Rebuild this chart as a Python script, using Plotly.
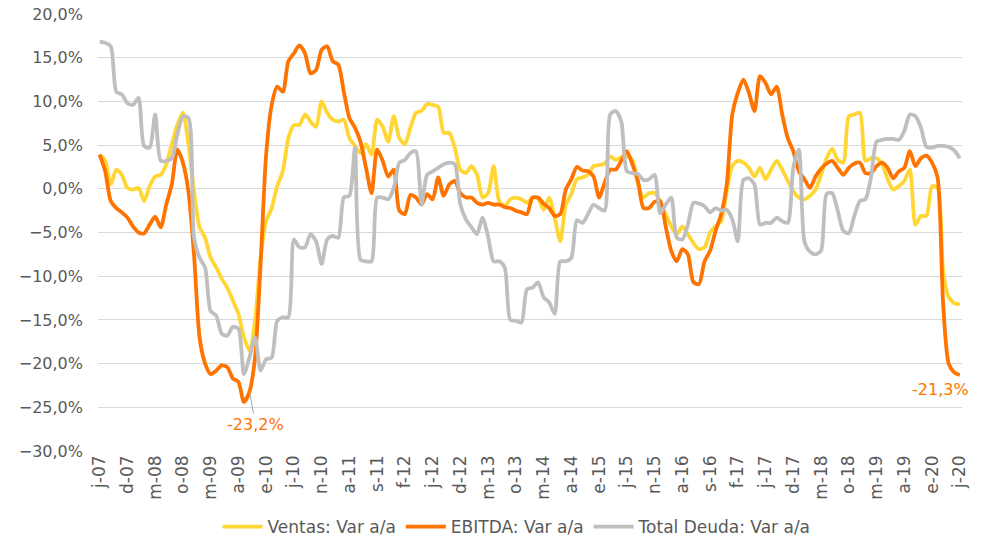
import plotly.graph_objects as go

# Monthly, jul-07 .. jun-20 (156 months), values in %
ventas = [3.9, 3.2, 0.5, 2.2, 1.6, 0.1, -0.1, 0.1, -1.4, 0.3,
          1.4, 1.6, 2.8, 5.1, 7.3, 8.7, 5.1, -0.3, -4.4, -5.6,
          -7.9, -9.0, -10.3, -11.3, -12.8, -14.3, -17.0, -18.5, -15.1, -7.9,
          -3.7, -2.2, 0.3, 2.0, 5.8, 7.3, 7.3, 8.5, 7.7, 7.1,
          10.0, 8.7, 7.9, 7.7, 7.9, 5.8, 4.9, 4.1, 5.1, 3.9,
          7.9, 7.1, 5.4, 8.3, 5.8, 5.1, 7.0, 8.7, 8.9, 9.7,
          9.6, 9.4, 6.4, 6.4, 4.7, 2.2, 1.8, 2.6, 1.6, -1.0,
          -0.5, 2.6, -1.4, -2.0, -1.2, -1.0, -1.2, -1.6, -1.0, -1.1,
          -2.4, -1.0, -3.3, -6.0, -1.8, -0.6, 1.1, 1.3, 1.6, 2.6,
          2.7, 2.9, 3.7, 3.3, 3.6, 3.7, 3.3, 0.5, -1.0, -0.5,
          -0.5, -1.4, -2.9, -4.3, -5.2, -4.3, -5.2, -6.2, -6.9, -6.7,
          -5.0, -4.3, -3.7, -0.3, 2.6, 3.2, 3.0, 2.4, 1.4, 2.4,
          1.1, 2.2, 3.2, 2.2, 0.9, -0.3, -1.0, -1.2, -0.8, -0.1,
          1.6, 3.5, 4.6, 3.3, 3.0, 8.3, 8.5, 8.7, 3.2, 3.5,
          3.5, 2.8, 1.1, -0.1, 0.3, 0.9, 2.2, -4.1, -3.1, -3.1,
          0.3, 0.1, -9.4, -12.4, -13.1, -13.2]

ebitda = [3.9, 2.0, -1.4, -2.2, -2.7, -3.3, -4.3, -5.0, -5.1, -4.1,
          -3.2, -4.4, -1.8, 0.5, 4.5, 3.0, -0.3, -7.5, -17.0, -20.0,
          -21.2, -20.8, -20.2, -20.4, -21.7, -22.1, -24.4, -23.2, -19.3, -8.6,
          3.9, 9.6, 11.7, 11.1, 14.6, 15.5, 16.4, 15.5, 13.2, 13.6,
          15.9, 16.3, 14.6, 14.2, 11.1, 8.1, 7.0, 5.4, 2.4, -0.5,
          4.5, 3.2, 1.4, 2.2, -2.5, -2.9, -0.7, -1.0, -1.8, -0.6,
          -1.2, 1.3, -0.8, 0.5, 0.9, -0.5, -1.0, -1.0, -1.6, -1.8,
          -1.6, -1.8, -1.8, -2.1, -2.2, -2.5, -2.7, -2.9, -1.0, -1.0,
          -1.7, -2.2, -3.1, -2.9, -0.1, 1.1, 2.5, 2.1, 2.0, 1.4,
          -1.0, 0.7, 2.2, 2.2, 3.2, 4.3, 2.8, 0.9, -2.2, -2.2,
          -1.5, -1.4, -4.3, -7.1, -8.3, -6.9, -7.5, -10.7, -10.9, -8.3,
          -7.1, -4.8, -2.9, 0.5, 8.5, 11.0, 12.5, 11.0, 8.9, 12.9,
          12.1, 10.8, 11.7, 8.5, 5.8, 4.3, 2.0, 1.1, 0.1, 1.4,
          2.3, 2.9, 3.2, 2.4, 1.6, 2.4, 2.9, 3.0, 1.8, 1.8,
          2.6, 3.0, 2.4, 1.2, 2.0, 2.4, 4.3, 2.6, 3.5, 3.8,
          3.0, 1.3, -13.2, -20.0, -21.0, -21.3]

deuda = [16.8, 16.7, 16.3, 11.1, 10.8, 9.8, 9.6, 10.4, 4.9, 4.7,
         8.5, 3.2, 3.2, 3.5, 6.2, 8.3, 8.1, -5.6, -7.9, -9.0,
         -14.0, -14.5, -16.6, -16.8, -15.8, -16.0, -21.2, -19.3, -17.0, -20.8,
         -19.5, -19.3, -15.1, -14.7, -14.7, -5.8, -6.7, -6.7, -5.2, -6.0,
         -8.6, -5.8, -5.4, -5.6, -1.0, -0.8, 4.7, -8.1, -8.3, -8.3,
         -1.0, -1.0, -1.2, 0.1, 3.0, 3.3, 4.1, 4.3, -1.8, 1.6,
         2.0, 2.4, 2.8, 3.0, 2.8, -1.8, -3.5, -4.4, -5.2, -3.3,
         -5.5, -8.3, -8.3, -9.0, -15.0, -15.1, -15.3, -11.5, -11.3, -10.7,
         -12.4, -13.0, -14.3, -8.3, -8.3, -7.9, -3.6, -3.9, -2.9, -1.8,
         -2.2, -2.5, 8.5, 8.9, 7.7, 2.0, 1.8, 1.7, 1.0, 1.1,
         1.6, -2.8, -1.8, -1.0, -5.6, -5.8, -4.1, -1.6, -1.7, -2.0,
         -2.7, -2.2, -2.5, -2.4, -3.5, -6.0, 1.0, 1.2, 0.5, -4.1,
         -3.9, -3.9, -3.3, -3.7, -3.9, 2.4, 4.5, -6.0, -7.2, -7.5,
         -7.1, -0.6, -0.5, -2.5, -4.8, -5.1, -3.1, -1.4, -1.2, 1.3,
         5.4, 5.6, 5.7, 5.7, 5.6, 6.6, 8.5, 8.3, 7.0, 4.8,
         4.7, 4.9, 4.9, 4.8, 4.4, 3.5]

tick_labels = ["j-07", "d-07", "m-08", "o-08", "m-09", "a-09", "e-10", "j-10",
               "n-10", "a-11", "s-11", "f-12", "j-12", "d-12", "m-13", "o-13",
               "m-14", "a-14", "e-15", "j-15", "n-15", "a-16", "s-16", "f-17",
               "j-17", "d-17", "m-18", "o-18", "m-19", "a-19", "e-20", "j-20"]
tick_step = 5

series_names = ["Ventas: Var a/a", "EBITDA: Var a/a", "Total Deuda: Var a/a"]
series_colors = ["#FFD633", "#FF7300", "#BFBFBF"]

x = list(range(len(ventas)))
tick_vals = [i * tick_step for i in range(len(tick_labels))]

fig = go.Figure()
for name, vals, col in zip(series_names, [ventas, ebitda, deuda], series_colors):
    fig.add_trace(go.Scatter(
        x=x, y=[v / 100 for v in vals], name=name, mode="lines",
        line=dict(color=col, width=3.8, shape="spline", smoothing=0.7),
        hoverinfo="skip"))

font_fam = "DejaVu Sans"
grey_txt = "#595959"

fig.add_annotation(x=27, y=ebitda[27] / 100, text="-23,2%", showarrow=True,
                   arrowhead=0, arrowwidth=1, arrowcolor="#A6A6A6",
                   ax=6, ay=33, font=dict(family=font_fam, size=16, color="#FF7300"))
fig.add_annotation(x=len(ebitda) - 1, y=ebitda[-1] / 100, text="-21,3%",
                   showarrow=False, xshift=-19, yshift=-15,
                   font=dict(family=font_fam, size=16, color="#FF7300"))

fig.update_layout(
    width=990, height=538,
    margin=dict(l=98, r=28, t=14, b=87, autoexpand=False),
    paper_bgcolor="white", plot_bgcolor="white",
    separators=",.",
    font=dict(family=font_fam, color=grey_txt, size=15),
    showlegend=True,
    legend=dict(orientation="h", x=0.485, xanchor="center", y=-0.174, yanchor="middle",
                font=dict(family=font_fam, size=17, color=grey_txt),
                bgcolor="rgba(0,0,0,0)", itemwidth=40),
    xaxis=dict(range=[-0.3, 155.4], tickmode="array", tickvals=tick_vals,
               ticktext=tick_labels, tickangle=-90, showgrid=False, zeroline=False,
               showline=False, ticks="", automargin=False,
               tickfont=dict(size=17, color=grey_txt)),
    yaxis=dict(range=[-0.30, 0.20], dtick=0.05, tickformat=".1%",
               showgrid=True, gridcolor="#D9D9D9", gridwidth=1, zeroline=False,
               showline=False, ticks="", automargin=False, ticklabelstandoff=14,
               tickfont=dict(size=16, color=grey_txt)),
)

fig.write_html("out.html", config={"displayModeBar": False},
               post_script="document.body.style.margin='0';")
